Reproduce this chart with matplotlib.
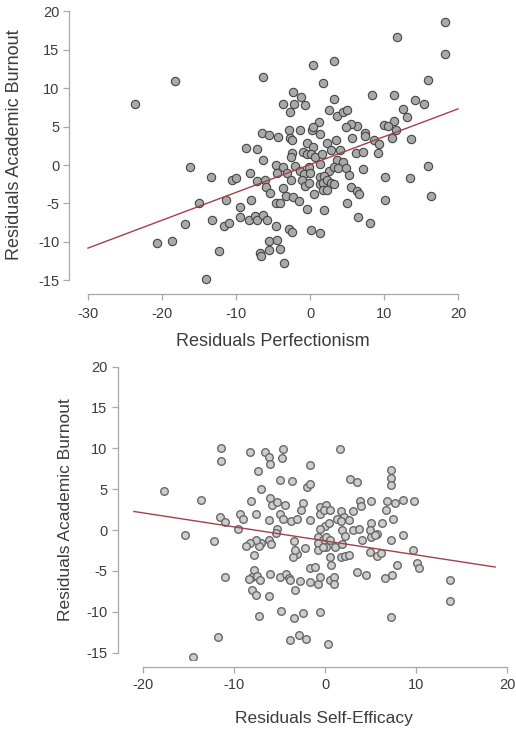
import matplotlib
matplotlib.use('Agg')
import matplotlib.pyplot as plt

plt.rcParams['font.family'] = ['Liberation Sans', 'DejaVu Sans']
plt.rcParams['axes.unicode_minus'] = False

# ---------------- data: top panel (Perfectionism) ----------------
perf_x = [-23.6, -18.2, -16.2, -13.4, -10.6, -10.0, -8.6, -7.2, -8.1, -7.1, -6.1, -6.4,
          -15.0, -16.9, -20.7, -18.6, -13.2, -11.4, -11.6, -10.9, -12.3, -14.0, -9.4, -9.5,
          -8.2, -8.0, -7.4, -7.1, -6.3, -6.8, -6.6,
          0.45, 3.2, 1.7, -2.3, -3.6, -2.1, -1.2, -0.7, -2.7, 3.2, 2.5, 3.6, 4.4, 5.0,
          8.4, 11.4, 14.2, 12.6, 13.1, 11.3, 10.0, 10.5, 11.6, 11.1, 13.6, 8.6, 9.3, 7.4,
          7.4, 6.4, 5.5, 4.8, 5.7, 1.2, 0.3, 0.4, 1.4, -1.4, -2.8, -2.7, -2.4, -6.5, -5.6,
          -4.3, -6.3, -5.9, -5.4, -4.6, -3.7, -4.5, -3.1, -2.4, -2.6, -2.0, -1.4, -2.6,
          -3.6, -3.2, -2.3, -1.5, -4.6, -4.1, -0.9, -0.4, 0.45, -0.45, 0.1, 0.7, 1.6, 2.3,
          3.5, 2.9, 4.0, 3.6, 4.5, 1.35, -0.2, -0.8, 0.0, 2.5, 3.2, 3.8, 4.8, 5.3, 6.2,
          7.2, 9.2, 7.1, 10.2, 13.5, -1.1, -0.7, -0.2, 1.35, 1.9, 1.3, 1.8, 2.25, 2.9,
          1.7, 2.3, 3.2, 5.5, 6.3, 6.6, 0.5, -0.45, 1.9, 5.0, 10.2, 6.5, 8.1, -5.8, -4.6,
          -2.8, -2.4, 0.2, 1.4, -5.6, -4.4, -4.05, -5.6,
          18.2, 11.7, 18.2, 15.9, 15.4, 15.9, 16.4, -3.5]
perf_y = [8.0, 10.9, -0.2, -1.5, -1.9, -1.7, 2.2, 2.1, -1.0, -2.1, -2.0, 11.4,
          -4.9, -7.7, -10.2, -9.9, -7.2, -4.6, -7.9, -7.6, -11.2, -14.8, -5.4, -6.8,
          -7.2, -4.6, -6.6, -7.1, -6.5, -11.5, -11.8,
          13.0, 13.5, 10.7, 9.5, 8.0, 7.9, 8.8, 7.8, 6.9, 8.6, 7.1, 6.4, 6.9, 7.2,
          9.1, 9.1, 8.5, 7.3, 6.3, 5.7, 5.2, 5.1, 4.5, 3.5, 3.4, 3.3, 2.8, 4.2,
          3.8, 5.1, 5.4, 5.0, 3.5, 5.6, 4.6, 5.0, 4.1, 4.5, 4.6, 3.5, 3.3, 4.2, 3.9,
          3.6, 0.6, -2.8, -3.6, 0.0, -0.2, -1.0, -1.1, 1.5, 1.0, -0.1, -0.8, -1.9,
          -3.0, -4.0, -4.1, -4.7, -5.0, -4.9, 1.7, 2.9, 2.3, 1.4, 1.4, 1.1, 1.4, 2.9,
          3.2, 2.0, 2.0, 0.65, 0.4, 0.1, -0.3, -1.2, -1.1, -0.8, -0.2, -0.4, -0.4, -1.3, 1.5,
          1.7, 1.5, -0.5, -1.5, -1.7, -2.0, -2.7, -2.3, -1.6, -1.4, -2.5, -2.4, -2.0, -2.3,
          -3.3, -3.2, -2.5, -2.8, -3.4, -3.8, -3.8, -5.7, -5.9, -4.9, -4.5, -6.8, -7.5, -7.2, -7.9,
          -8.3, -8.7, -8.4, -8.9, -9.9, -9.75, -10.9, -11.05,
          18.6, 16.6, 14.5, 11.05, 7.9, -0.1, -4.0, -12.8]
perf_line_x = [-30, 20]
perf_line_y = [-10.8, 7.3]
perf_xticks = [-30, -20, -10, 0, 10, 20]
perf_yticks = [-15, -10, -5, 0, 5, 10, 15, 20]

# ---------------- data: bottom panel (Self-Efficacy) ----------------
se_x = [-11.4, -11.4, -8.2, -6.6, -6.2, -6.0, -4.6, -4.7, 1.7, -7.4, -1.6, -4.9, -3.6,
        -7.0, -2.0, -1.6, 2.7, 3.5, 7.3, 7.3, 7.3, -13.6, -8.1, -6.0, -5.8, -5.3, -4.4,
        -2.45, -2.6, -7.6, -9.3, -9.0, -11.5, -11.0, -9.6, -12.2, -6.2, -4.9, -4.6, -5.3,
        -5.4, -3.7, -3.1, -1.7, -0.6, 0.1, -0.5, -0.1, 0.6, 1.8, 2.1, 1.3, 1.8, 2.6, 3.1,
        3.9, 4.0, 5.1, 6.8, 6.7, 7.7, 8.6, 9.8, 7.5, 5.05, 4.9, 5.7, 6.3, 3.1, 3.7, 1.9,
        2.2, 0.0, 0.4, -0.5, -0.8, -0.25, 0.1, 0.6, -0.75, 0.1, -0.75, -0.25, 1.1, 1.9,
        4.1, 5.0, 5.5, 4.9, 5.7, 6.2, 7.3, 8.6, 9.7, 10.1, 10.3, 7.9, 7.4, 6.6, 3.55, 4.5,
        1.8, 2.2, 2.6, 0.55, 0.7, -1.65, -1.1, -2.2, -3.1, -3.55, -3.4, -3.3, -6.2, -5.9,
        -7.0, -7.3, -7.6, -8.2, -8.7, -7.8, -7.8, -8.0, -7.5, -7.1, -8.4, -11.0, -6.0,
        -4.9, -4.3, -4.0, -3.8, -2.8, -1.7, -0.8, -0.55, 0.5, 1.0, 1.0, -8.0, -7.6, -6.2,
        -3.3, -7.3, -4.8, -3.4, -2.4, -0.5, 7.3, -11.8, -3.85, -2.9, -2.1, 0.3, -17.7,
        -15.4, -14.5, 13.7, 13.7]
se_y = [10.1, 8.4, 9.5, 9.5, 8.9, 8.1, 9.9, 8.8, 9.9, 7.2, 8.0, 6.1, 6.0,
        5.0, 5.3, 5.6, 6.3, 5.9, 7.3, 6.4, 5.5, 3.7, 3.55, 3.9, 3.1, 3.4, 3.1,
        3.3, 2.4, 2.0, 2.0, 1.3, 1.55, 1.0, 0.1, -1.3, 1.2, 2.0, 1.3, 0.1,
        -0.4, 1.1, 1.3, 1.2, 2.8, 3.1, 2.0, 2.4, 2.5, 2.3, 1.6, 1.3, 1.1, 1.2, 2.3,
        3.6, 2.9, 3.5, 3.6, 2.5, 3.3, 3.7, 3.6, 1.4, 0.9, 0.0, -0.5, 0.8, 0.0, 0.1, 0.0,
        -0.7, 0.5, 0.8, 0.1, -0.9, -1.2, -0.9, -1.2, -1.6, -2.1, -2.5, -2.1, -2.1, -1.7,
        -1.2, -0.9, -0.6, -2.7, -3.2, -2.8, -1.2, -0.6, -2.4, -4.0, -4.7, -4.3, -5.5, -5.9, -5.1, -5.5,
        -3.3, -3.2, -3.1, -3.3, -4.3, -4.7, -4.5, -2.2, -2.9, -3.3, -1.4, -2.4, -1.2, -1.7,
        -1.6, -2.0, -1.2, -1.55, -2.0, -3.1, -4.9, -5.7, -5.6, -6.1, -6.0, -5.7, -5.4,
        -5.7, -5.4, -5.9, -6.1, -6.2, -6.4, -6.6, -5.8, -6.1, -5.7, -6.65, -7.4, -8.0, -8.1,
        -7.3, -10.5, -9.9, -10.8, -10.2, -10.0, -10.6, -13.1, -13.5, -12.9, -13.3, -13.9, 4.8,
        -0.65, -15.5, -6.1, -8.7]
se_line_x = [-21, 18.7]
se_line_y = [2.27, -4.53]
se_xticks = [-20, -10, 0, 10, 20]
se_yticks = [-15, -10, -5, 0, 5, 10, 15, 20]

W, H = 516, 731
fig = plt.figure(figsize=(W / 100, H / 100), dpi=100)


def px_axes(l, t, r, b):
    return fig.add_axes([l / W, 1 - b / H, (r - l) / W, (b - t) / H])


AXC = '#a8a8a8'
TXT = '#3c3c3c'
LINEC = '#a3404a'


def style(ax, xb, yb, left_out, bottom_out, xticks, yticks, ypad, xpad):
    for s in ['top', 'right']:
        ax.spines[s].set_visible(False)
    ax.spines['left'].set_position(('outward', left_out))
    ax.spines['bottom'].set_position(('outward', bottom_out))
    ax.spines['left'].set_bounds(*yb)
    ax.spines['bottom'].set_bounds(*xb)
    for s in ['left', 'bottom']:
        ax.spines[s].set_color(AXC)
        ax.spines[s].set_linewidth(0.9)
    ax.set_xticks(xticks)
    ax.set_yticks(yticks)
    ax.tick_params(axis='both', colors=AXC, labelcolor=TXT, labelsize=10.5,
                   length=4.3, width=0.9)
    ax.tick_params(axis='y', pad=ypad)
    ax.tick_params(axis='x', pad=xpad)
    ax.patch.set_visible(False)


# top panel
ax1 = px_axes(80, 5, 470, 285)
ax1.set_xlim(-31.08, 21.62)
ax1.set_ylim(-15.60, 20.81)
ax1.scatter(perf_x, perf_y, s=36, facecolor='#a9a9a9', edgecolor='#454545',
            linewidths=0.8, zorder=2)
ax1.plot(perf_line_x, perf_line_y, color=LINEC, lw=1.0, zorder=3)
style(ax1, (-30, 20), (-15, 20), 7.9, 6.5, perf_xticks, perf_yticks, 2.5, 5.0)

# bottom panel
ax2 = px_axes(128, 360, 512, 660)
ax2.set_xlim(-21.65, 20.55)
ax2.set_ylim(-15.91, 20.81)
ax2.scatter(se_x, se_y, s=30, facecolor='#cdcdcd', edgecolor='#686868',
            linewidths=1.0, zorder=2)
ax2.plot(se_line_x, se_line_y, color=LINEC, lw=1.0, zorder=3)
style(ax2, (-20, 20), (-15, 20), 7.2, 5.0, se_xticks, se_yticks, 3.5, 4.0)

# axis titles
fig.text(15 / W, 1 - 145 / H, 'Residuals Academic Burnout', rotation=90,
         ha='center', va='center', fontsize=13, color=TXT)
fig.text(273 / W, 1 - 342 / H, 'Residuals Perfectionism',
         ha='center', va='center', fontsize=13, color=TXT)
fig.text(65 / W, 1 - 510 / H, 'Residuals Academic Burnout', rotation=90,
         ha='center', va='center', fontsize=12.5, color=TXT)
fig.text(324 / W, 1 - 718 / H, 'Residuals Self-Efficacy',
         ha='center', va='center', fontsize=12.5, color=TXT)

fig.savefig('out.png', dpi=100)
